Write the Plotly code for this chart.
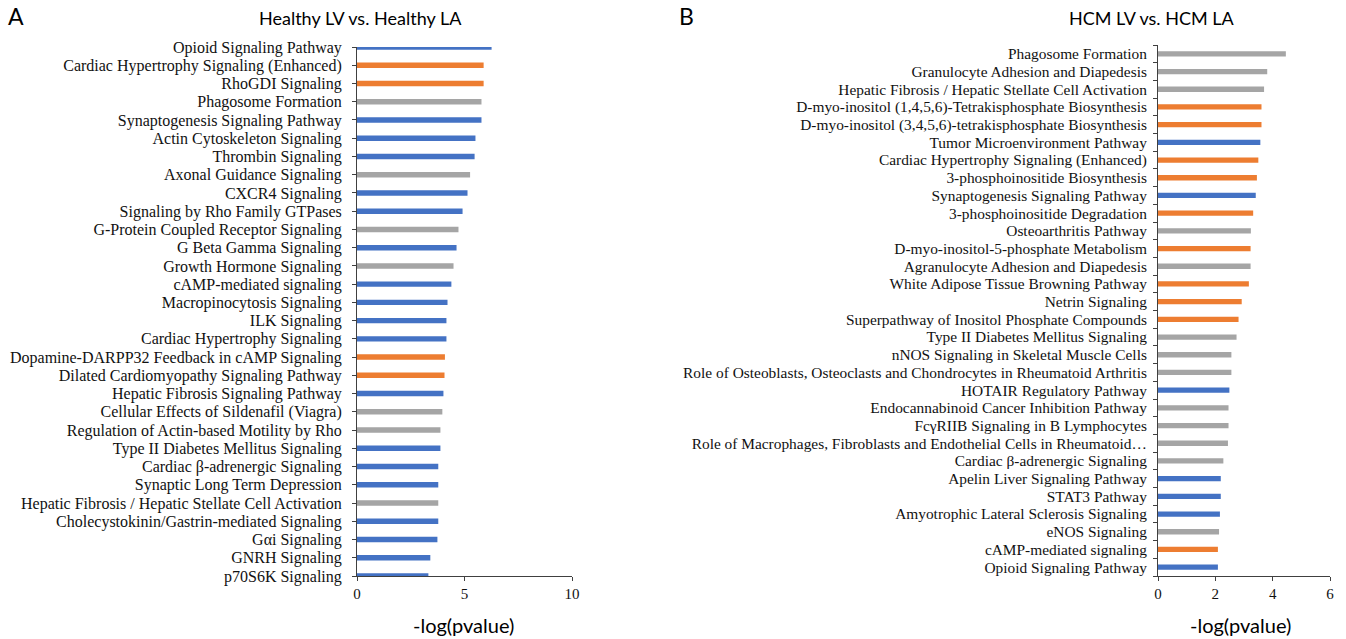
import plotly.graph_objects as go

BLUE = "#4472C4"
ORANGE = "#ED7D31"
GRAY = "#A5A5A5"

# Panel A: Healthy LV vs. Healthy LA
healthy_pathways = [
    "Opioid Signaling Pathway",
    "Cardiac Hypertrophy Signaling (Enhanced)",
    "RhoGDI Signaling",
    "Phagosome Formation",
    "Synaptogenesis Signaling Pathway",
    "Actin Cytoskeleton Signaling",
    "Thrombin Signaling",
    "Axonal Guidance Signaling",
    "CXCR4 Signaling",
    "Signaling by Rho Family GTPases",
    "G-Protein Coupled Receptor Signaling",
    "G Beta Gamma Signaling",
    "Growth Hormone Signaling",
    "cAMP-mediated signaling",
    "Macropinocytosis Signaling",
    "ILK Signaling",
    "Cardiac Hypertrophy Signaling",
    "Dopamine-DARPP32 Feedback in cAMP Signaling",
    "Dilated Cardiomyopathy Signaling Pathway",
    "Hepatic Fibrosis Signaling Pathway",
    "Cellular Effects of Sildenafil (Viagra)",
    "Regulation of Actin-based Motility by Rho",
    "Type II Diabetes Mellitus Signaling",
    "Cardiac β-adrenergic Signaling",
    "Synaptic Long Term Depression",
    "Hepatic Fibrosis / Hepatic Stellate Cell Activation",
    "Cholecystokinin/Gastrin-mediated Signaling",
    "Gαi Signaling",
    "GNRH Signaling",
    "p70S6K Signaling",
]
healthy_values = [
    6.26, 5.89, 5.89, 5.79, 5.79, 5.51, 5.47, 5.26, 5.14, 4.91,
    4.72, 4.63, 4.49, 4.39, 4.21, 4.16, 4.16, 4.09, 4.07, 4.02,
    3.97, 3.88, 3.88, 3.78, 3.78, 3.78, 3.78, 3.74, 3.41, 3.32,
]
healthy_colors = [
    BLUE, ORANGE, ORANGE, GRAY, BLUE, BLUE, BLUE, GRAY, BLUE, BLUE,
    GRAY, BLUE, GRAY, BLUE, BLUE, BLUE, BLUE, ORANGE, ORANGE, BLUE,
    GRAY, GRAY, BLUE, BLUE, BLUE, GRAY, BLUE, BLUE, BLUE, BLUE,
]

# Panel B: HCM LV vs. HCM LA
hcm_pathways = [
    "Phagosome Formation",
    "Granulocyte Adhesion and Diapedesis",
    "Hepatic Fibrosis / Hepatic Stellate Cell Activation",
    "D-myo-inositol (1,4,5,6)-Tetrakisphosphate Biosynthesis",
    "D-myo-inositol (3,4,5,6)-tetrakisphosphate Biosynthesis",
    "Tumor Microenvironment Pathway",
    "Cardiac Hypertrophy Signaling (Enhanced)",
    "3-phosphoinositide Biosynthesis",
    "Synaptogenesis Signaling Pathway",
    "3-phosphoinositide Degradation",
    "Osteoarthritis Pathway",
    "D-myo-inositol-5-phosphate Metabolism",
    "Agranulocyte Adhesion and Diapedesis",
    "White Adipose Tissue Browning Pathway",
    "Netrin Signaling",
    "Superpathway of Inositol Phosphate Compounds",
    "Type II Diabetes Mellitus Signaling",
    "nNOS Signaling in Skeletal Muscle Cells",
    "Role of Osteoblasts, Osteoclasts and Chondrocytes in Rheumatoid Arthritis",
    "HOTAIR Regulatory Pathway",
    "Endocannabinoid Cancer Inhibition Pathway",
    "FcγRIIB Signaling in B Lymphocytes",
    "Role of Macrophages, Fibroblasts and Endothelial Cells in Rheumatoid…",
    "Cardiac β-adrenergic Signaling",
    "Apelin Liver Signaling Pathway",
    "STAT3 Pathway",
    "Amyotrophic Lateral Sclerosis Signaling",
    "eNOS Signaling",
    "cAMP-mediated signaling",
    "Opioid Signaling Pathway",
]
hcm_values = [
    4.46, 3.81, 3.70, 3.61, 3.61, 3.57, 3.50, 3.45, 3.41, 3.32,
    3.24, 3.23, 3.23, 3.17, 2.92, 2.81, 2.74, 2.56, 2.56, 2.49,
    2.46, 2.46, 2.44, 2.28, 2.19, 2.19, 2.16, 2.13, 2.09, 2.09,
]
hcm_colors = [
    GRAY, GRAY, GRAY, ORANGE, ORANGE, BLUE, ORANGE, ORANGE, BLUE, ORANGE,
    GRAY, ORANGE, GRAY, ORANGE, ORANGE, ORANGE, GRAY, GRAY, GRAY, BLUE,
    GRAY, GRAY, GRAY, GRAY, BLUE, BLUE, BLUE, GRAY, ORANGE, BLUE,
]

SERIF = "Liberation Serif, Times New Roman, serif"
SANS = "Lato, Carlito, Calibri, sans-serif"
W, H = 1346, 639

fig = go.Figure()
fig.add_trace(go.Bar(
    x=healthy_values, y=healthy_pathways, orientation="h",
    marker=dict(color=healthy_colors, line=dict(width=0)),
    width=0.3, xaxis="x", yaxis="y", showlegend=False,
))
fig.add_trace(go.Bar(
    x=hcm_values, y=hcm_pathways, orientation="h",
    marker=dict(color=hcm_colors, line=dict(width=0)),
    width=0.3, xaxis="x2", yaxis="y2", showlegend=False,
))


def axis_style(size):
    return dict(showline=True, linecolor="#404040", linewidth=1,
                showgrid=False, zeroline=False, ticks="outside",
                tickcolor="#404040", ticklen=4, automargin=False,
                tickfont=dict(family=SERIF, size=size, color="#111111"))


n_a = len(healthy_pathways)
n_b = len(hcm_pathways)

fig.update_layout(
    width=W, height=H,
    margin=dict(l=0, r=0, t=0, b=0),
    paper_bgcolor="white", plot_bgcolor="white",
    # left panel: categories sit on the tick marks (end bars half clipped)
    xaxis=dict(domain=[357 / W, 572 / W], range=[0, 10], tickvals=[0, 5, 10],
               anchor="y", **axis_style(15)),
    yaxis=dict(domain=[(H - 576) / H, (H - 47) / H], range=[n_a - 1, 0],
               type="category", anchor="x", tickson="labels",
               tickmode="array", tickvals=healthy_pathways, ticktext=healthy_pathways,
               ticklabelstandoff=7, **axis_style(16)),
    # right panel: ticks between categories
    xaxis2=dict(domain=[1158 / W, 1330 / W], range=[0, 6], tickvals=[0, 2, 4, 6],
                anchor="y2", **axis_style(15)),
    yaxis2=dict(domain=[(H - 576) / H, (H - 45) / H], range=[n_b - 0.5, -0.5],
                type="category", anchor="x2", tickson="boundaries",
                tickmode="array", tickvals=hcm_pathways, ticktext=hcm_pathways,
                ticklabelstandoff=7, **axis_style(15.4)),
)


def note(text, x, y, size, xanchor="center"):
    fig.add_annotation(text=text, x=x / W, y=1 - y / H, xref="paper", yref="paper",
                       showarrow=False, xanchor=xanchor, yanchor="middle",
                       font=dict(family=SANS, size=size, color="black"))


note("A", 6, 16, 23, xanchor="left")
note("B", 677, 16, 23, xanchor="left")
note("Healthy LV vs. Healthy LA", 360, 18, 18)
note("HCM LV vs. HCM LA", 1152, 18, 18)
note("-log(pvalue)", 463, 625, 20)
note("-log(pvalue)", 1240, 625, 20)

fig.write_html("out.html")
